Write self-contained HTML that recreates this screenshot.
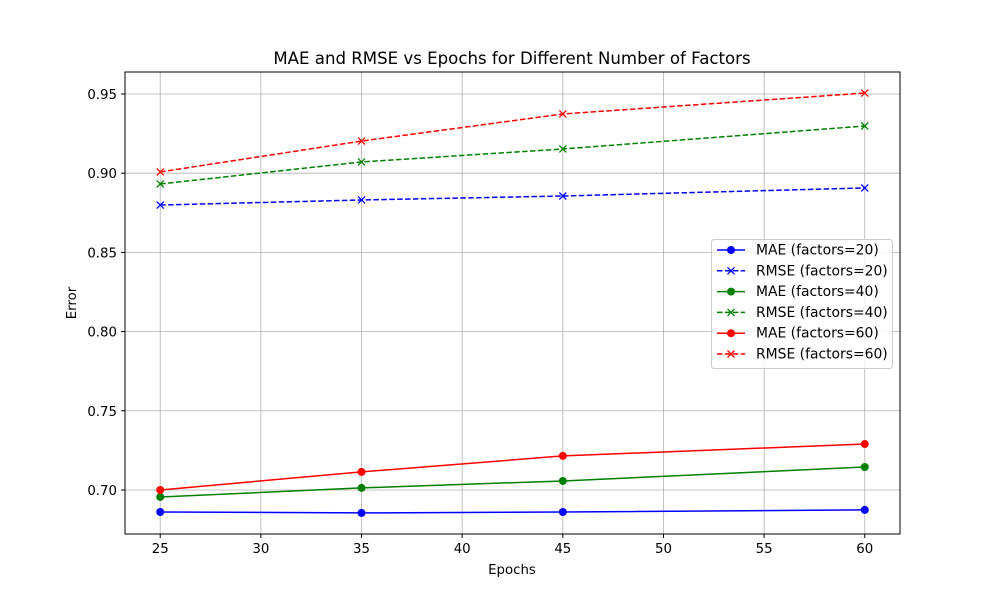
<!DOCTYPE html>
<html><head><meta charset="utf-8"><style>
body{margin:0;background:#fff}
svg{font-family:"DejaVu Sans","Liberation Sans",sans-serif}
</style></head><body>
<svg id="chart" width="1000" height="600" xmlns="http://www.w3.org/2000/svg">
<rect width="1000" height="600" fill="#fff"/>
<g id="grid"></g>
<g id="series"></g>
<rect x="125" y="72" width="775" height="462" fill="none" stroke="#000" stroke-width="1"/>
<g id="ticks"></g>
<text x="512" y="64" font-size="16.6" text-anchor="middle">MAE and RMSE vs Epochs for Different Number of Factors</text>
<text x="512" y="574" font-size="13.33" text-anchor="middle">Epochs</text>
<text x="76" y="303" font-size="13.33" text-anchor="middle" transform="rotate(-90 76 303)">Error</text>
<g id="legend"></g>
</svg>
<script>
const epochs=[25,35,45,60];
const mae20=[0.6861,0.6855,0.6861,0.6874];
const rmse20=[0.8799,0.8831,0.8856,0.8907];
const mae40=[0.6956,0.7013,0.7057,0.7145];
const rmse40=[0.8932,0.9071,0.9153,0.9298];
const mae60=[0.7000,0.7114,0.7215,0.7290];
const rmse60=[0.9008,0.9203,0.9374,0.9506];
const xTicks=[25,30,35,40,45,50,55,60];
const yTicks=[0.70,0.75,0.80,0.85,0.90,0.95];
const labels=["MAE (factors=20)","RMSE (factors=20)","MAE (factors=40)","RMSE (factors=40)","MAE (factors=60)","RMSE (factors=60)"];
const NS="http://www.w3.org/2000/svg";
const X0=125,X1=900,Y0=534,Y1=72,xmin=23.25,xmax=61.75,ymin=0.6722,ymax=0.9639;
const xs=v=>X0+(v-xmin)/(xmax-xmin)*(X1-X0);
const ys=v=>Y0-(v-ymin)/(ymax-ymin)*(Y0-Y1);
function mk(t,a,p){const e=document.createElementNS(NS,t);for(const k in a)e.setAttribute(k,a[k]);p.appendChild(e);return e;}
const grid=document.getElementById('grid'),ticks=document.getElementById('ticks');
xTicks.forEach(v=>{const x=xs(v);
const g=mk('line',{x1:x,x2:x,y1:Y1,y2:Y0,stroke:'#b0b0b0','stroke-width':0.8},grid);

const t=mk('line',{x1:x,x2:x,y1:Y0,y2:Y0+4,stroke:'#000'},ticks);

const l=mk('text',{x:x,y:Y0+19,'font-size':13.33,'text-anchor':'middle'},ticks);l.textContent=v;
});
yTicks.forEach(v=>{const y=ys(v);
const g=mk('line',{x1:X0,x2:X1,y1:y,y2:y,stroke:'#b0b0b0','stroke-width':0.8},grid);

const t=mk('line',{x1:X0-4,x2:X0,y1:y,y2:y,stroke:'#000'},ticks);

const l=mk('text',{x:X0-8,y:y+5,'font-size':13.33,'text-anchor':'end'},ticks);l.textContent=v.toFixed(2);
});
const sers=[[mae20,'blue',false],[rmse20,'blue',true],[mae40,'green',false],[rmse40,'green',true],[mae60,'red',false],[rmse60,'red',true]];
const sg=document.getElementById('series');
function marker(x,y,c,dash,p){
if(dash){const s=3.5;mk('path',{d:`M${x-s},${y-s}L${x+s},${y+s}M${x-s},${y+s}L${x+s},${y-s}`,stroke:c,'stroke-width':1.3,fill:'none'},p);}
else mk('circle',{cx:x,cy:y,r:4,fill:c},p);}
sers.forEach((s,i)=>{const [d,c,dash]=s;
const g=mk('g',{},sg);
const pts=d.map((v,j)=>xs(epochs[j])+','+ys(v)).join(' ');
const pl=mk('polyline',{points:pts,fill:'none',stroke:c,'stroke-width':1.5},g);
if(dash)pl.setAttribute('stroke-dasharray','5.5,2.4');

d.forEach((v,j)=>marker(xs(epochs[j]),ys(v),c,dash,g));});
const lg=document.getElementById('legend');
mk('rect',{x:711.5,y:239.5,width:181,height:129,rx:3,fill:'#fff','fill-opacity':0.8,stroke:'#ccc'},lg);
sers.forEach((s,i)=>{const [d,c,dash]=s;const y=250+i*20.8;
const e=mk('g',{},lg);
const l=mk('line',{x1:717,x2:745,y1:y,y2:y,stroke:c,'stroke-width':1.5},e);
if(dash)l.setAttribute('stroke-dasharray','5.5,2.4');
marker(731,y,c,dash,e);
const t=mk('text',{x:756,y:y+4.5,'font-size':13.9},e);t.textContent=labels[i];});
</script>
</body></html>
